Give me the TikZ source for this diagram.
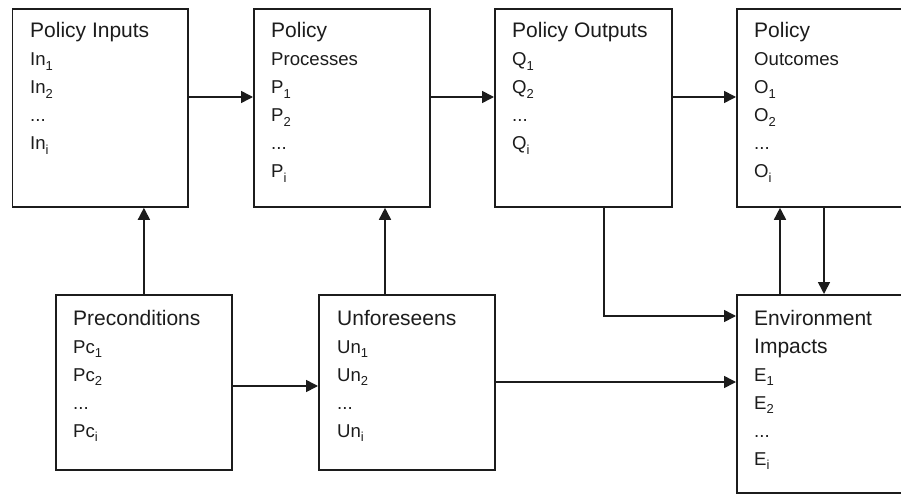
\documentclass[tikz,border=0pt]{standalone}
\usepackage{fontspec}
\setmainfont{Liberation Sans}
\usetikzlibrary{arrows.meta}
\definecolor{ink}{HTML}{1C1C1C}

% stacked lines with fixed 28pt baseline distance; base = first baseline
\newcommand{\stack}[1]{\vtop{\baselineskip=28pt\lineskiplimit=-1000pt\lineskip=0pt #1}}
\newcommand{\ttl}[1]{\hbox{\fontsize{21}{28}\selectfont #1}}
\newcommand{\itm}[1]{\hbox{\fontsize{18.6}{28}\selectfont #1}}
\newcommand{\sub}[1]{\raisebox{-4.5pt}{\fontsize{13}{13}\selectfont #1}}

\begin{document}
\begin{tikzpicture}[x=1pt,y=-1pt,
  blk/.style={draw=ink,line width=1.8pt,rectangle,inner sep=0pt,anchor=north west},
  txt/.style={anchor=base west,inner sep=0pt,text=ink},
  link/.style={draw=ink,line width=1.6pt,-{Triangle[length=12pt,width=12pt]}}]
\useasboundingbox (0,0) rectangle (901,494);
\clip (0,0) rectangle (901,494);
\fill[white] (0,0) rectangle (901,494);

% boxes
\node[blk,minimum width=175.5pt,minimum height=198pt] (PI) at (11.5,8) {};
\node[blk,minimum width=176pt,minimum height=198pt] (PP) at (253,8) {};
\node[blk,minimum width=177pt,minimum height=198pt] (PO) at (494,8) {};
\node[blk,minimum width=176pt,minimum height=198pt] (OC) at (736,8) {};
\node[blk,minimum width=176pt,minimum height=175pt] (PC) at (55,294) {};
\node[blk,minimum width=176pt,minimum height=175pt] (UN) at (318,294) {};
\node[blk,minimum width=176pt,minimum height=198pt] (EN) at (736,294) {};

% box texts
\node[txt] (tPI) at (30,38) {\stack{\ttl{Policy Inputs}\itm{In\sub{1}}\itm{In\sub{2}}\itm{...}\itm{In\sub{i}}}};
\node[txt] (tPP) at (271,38) {\stack{\ttl{Policy}\itm{Processes}\itm{P\sub{1}}\itm{P\sub{2}}\itm{...}\itm{P\sub{i}}}};
\node[txt] (tPO) at (512,38) {\stack{\ttl{Policy Outputs}\itm{Q\sub{1}}\itm{Q\sub{2}}\itm{...}\itm{Q\sub{i}}}};
\node[txt] (tOC) at (754,38) {\stack{\ttl{Policy}\itm{Outcomes}\itm{O\sub{1}}\itm{O\sub{2}}\itm{...}\itm{O\sub{i}}}};
\node[txt] (tPC) at (73,325) {\stack{\ttl{Preconditions}\itm{Pc\sub{1}}\itm{Pc\sub{2}}\itm{...}\itm{Pc\sub{i}}}};
\node[txt] (tUN) at (337,325) {\stack{\ttl{Unforeseens}\itm{Un\sub{1}}\itm{Un\sub{2}}\itm{...}\itm{Un\sub{i}}}};
\node[txt] (tEN) at (754,325) {\stack{\ttl{Environment}\ttl{Impacts}\itm{E\sub{1}}\itm{E\sub{2}}\itm{...}\itm{E\sub{i}}}};

% connectors
\draw[link] (PI.east |- 0,97) -- (PP.west |- 0,97);
\draw[link] (PP.east |- 0,97) -- (PO.west |- 0,97);
\draw[link] (PO.east |- 0,97) -- (OC.west |- 0,97);
\draw[link] (PC.north) -- (PI.south -| PC.north);
\draw[link] (UN.north -| 385,0) -- (PP.south -| 385,0);
\draw[link] (PC.east |- 0,386) -- (UN.west |- 0,386);
\draw[link] (UN.east |- 0,382) -- (EN.west |- 0,382);
\draw[link] (PO.south -| 604,0) |- (EN.west |- 0,316);
\draw[link] (EN.north -| 780,0) -- (OC.south -| 780,0);
\draw[link] (OC.south -| 824,0) -- (EN.north -| 824,0);
\end{tikzpicture}
\end{document}
